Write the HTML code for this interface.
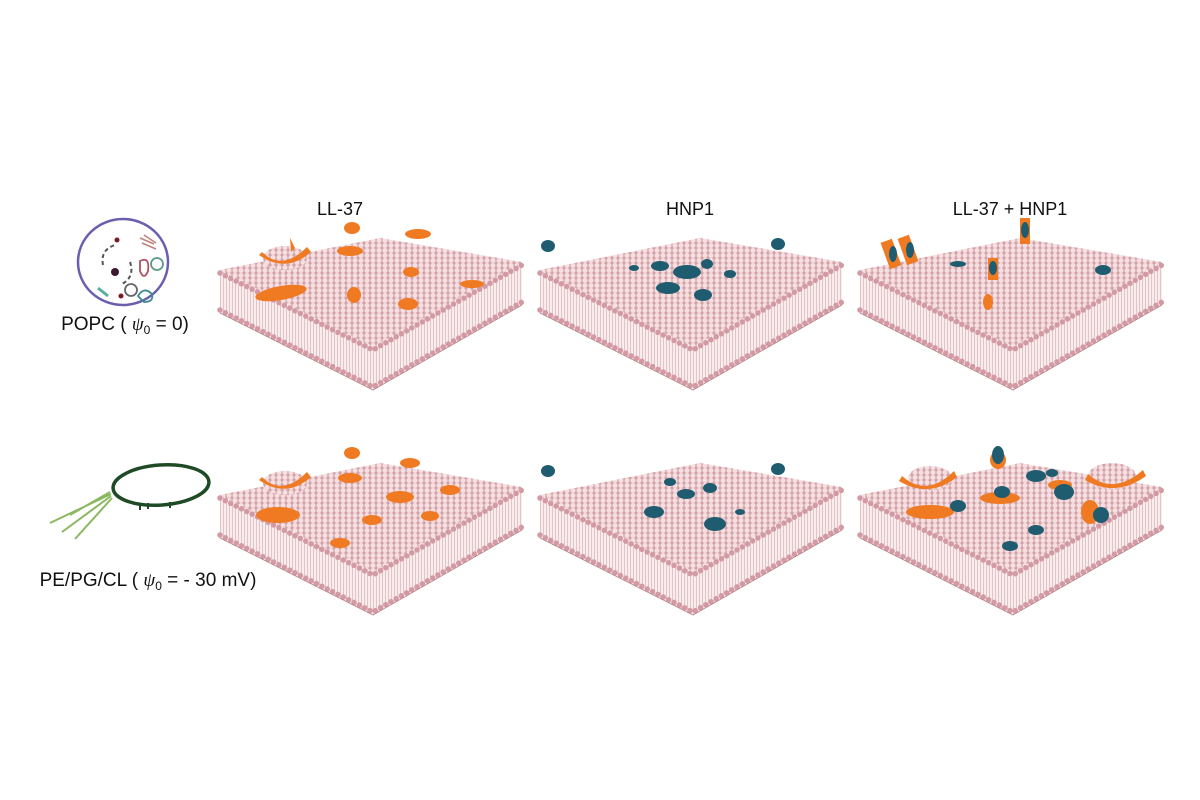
<!DOCTYPE html>
<html><head><meta charset="utf-8"><style>
body{margin:0;background:#fff;}
svg{display:block}
text{font-family:"Liberation Sans",sans-serif;fill:#111}
</style></head><body>
<svg width="1200" height="800" viewBox="0 0 1200 800" xmlns="http://www.w3.org/2000/svg">
<defs>
<pattern id="dots" width="6" height="5" patternUnits="userSpaceOnUse">
<rect width="6" height="5" fill="#d4a3aa"/>
<circle cx="3" cy="2.5" r="2.5" fill="#f5dfe1"/>
</pattern>
<pattern id="side" width="3" height="43" patternUnits="userSpaceOnUse">
<rect width="3" height="43" fill="#f8eced"/>
<rect x="0" y="0" width="1" height="43" fill="#e2c3c7"/>
</pattern>
<g id="slab">
<polygon points="0,32 153,109 153,152 0,75" fill="url(#side)"/>
<polygon points="153,109 302,24 302,67 153,152" fill="url(#side)"/>
<polygon points="0,32 160,0 302,24 153,109" fill="url(#dots)"/>
<g fill="none" stroke="#d39aa3" stroke-width="5.5" stroke-linecap="round" stroke-dasharray="0 6">
<polyline points="0,35 153,112 302,27"/>
<polyline points="0,72 153,149 302,64"/>
</g>
<g fill="none" stroke="#b88088" stroke-width="0.8">
<polyline points="0,75 153,152 302,67"/>
</g>
</g>
</defs>

<text x="340" y="215" font-size="18" text-anchor="middle">LL-37</text>
<text x="690" y="215" font-size="18" text-anchor="middle">HNP1</text>
<text x="1010" y="215" font-size="18" text-anchor="middle">LL-37 + HNP1</text>
<text x="125" y="330" font-size="19" text-anchor="middle">POPC ( <tspan font-style="italic" font-family="Liberation Serif">ψ</tspan><tspan font-size="12" dy="4">0</tspan><tspan dy="-4"> = 0)</tspan></text>
<text x="148" y="586" font-size="19" text-anchor="middle">PE/PG/CL ( <tspan font-style="italic" font-family="Liberation Serif">ψ</tspan><tspan font-size="12" dy="4">0</tspan><tspan dy="-4"> = - 30 mV)</tspan></text>

<ellipse cx="123" cy="262" rx="45" ry="43" fill="none" stroke="#6a5fae" stroke-width="2.5"/>
<circle cx="115" cy="272" r="4" fill="#3a1a30"/>
<circle cx="117" cy="240" r="2.5" fill="#7a1a20"/>
<circle cx="121" cy="296" r="2.5" fill="#7a1a20"/>
<path d="M103 265 q-3 -15 12 -20 M130 262 q5 15 -8 22" fill="none" stroke="#555" stroke-width="2" stroke-dasharray="4 3"/>
<path d="M140 261 q10 -5 8 10 q-4 10 -8 0z" fill="none" stroke="#b05060" stroke-width="1.8"/>
<circle cx="157" cy="264" r="6" fill="none" stroke="#5a9a88" stroke-width="1.8"/>
<circle cx="131" cy="290" r="6" fill="none" stroke="#666" stroke-width="1.8"/>
<path d="M138 296 q6 -10 14 -2 q2 8 -8 8z" fill="none" stroke="#3a8a90" stroke-width="1.8"/>
<path d="M140 238 l14 6 M142 243 l14 6 M144 235 l12 8" stroke="#c08080" stroke-width="1.5"/>
<path d="M98 288 l10 8" stroke="#5ab0a0" stroke-width="3"/>

<ellipse cx="161" cy="485" rx="48" ry="20" transform="rotate(-4 161 485)" fill="none" stroke="#1f4a26" stroke-width="3.5"/>
<path d="M140 503 v7 M148 503 v6 M170 502 v6" stroke="#1f4a26" stroke-width="2"/>
<path d="M111 494 L50 523 M111 496 L62 532 M112 498 L75 539 M110 492 L70 515" stroke="#8ab860" stroke-width="2"/>

<use href="#slab" x="220" y="238"/>
<use href="#slab" x="540" y="238"/>
<use href="#slab" x="860" y="238"/>
<use href="#slab" x="220" y="463"/>
<use href="#slab" x="540" y="463"/>
<use href="#slab" x="860" y="463"/>

<g fill="#f07a22">
<ellipse cx="285" cy="258" rx="22" ry="12" fill="url(#dots)"/>
<path d="M262 252 q20 20 45 -5 l4 5 q-25 22 -52 3z"/>
<path d="M290 238 l5 10 -4 4z"/>
<ellipse cx="352" cy="228" rx="8" ry="6"/>
<ellipse cx="418" cy="234" rx="13" ry="5"/>
<ellipse cx="350" cy="251" rx="13" ry="5"/>
<ellipse cx="411" cy="272" rx="8" ry="5"/>
<ellipse cx="472" cy="284" rx="12" ry="4"/>
<ellipse cx="281" cy="293" rx="26" ry="7" transform="rotate(-10 281 293)"/>
<ellipse cx="354" cy="295" rx="7" ry="8"/>
<ellipse cx="408" cy="304" rx="10" ry="6"/>
<ellipse cx="285" cy="483" rx="22" ry="12" fill="url(#dots)"/>
<path d="M262 477 q20 20 45 -5 l4 5 q-25 22 -52 3z"/>
<ellipse cx="352" cy="453" rx="8" ry="6"/>
<ellipse cx="410" cy="463" rx="10" ry="5"/>
<ellipse cx="350" cy="478" rx="12" ry="5"/>
<ellipse cx="400" cy="497" rx="14" ry="6"/>
<ellipse cx="372" cy="520" rx="10" ry="5"/>
<ellipse cx="430" cy="516" rx="9" ry="5"/>
<ellipse cx="278" cy="515" rx="22" ry="8"/>
<ellipse cx="340" cy="543" rx="10" ry="5"/>
<ellipse cx="450" cy="490" rx="10" ry="5"/>
<rect x="885" y="240" width="12" height="28" transform="rotate(-20 891 254)"/>
<rect x="902" y="236" width="12" height="28" transform="rotate(-20 908 250)"/>
<rect x="1020" y="218" width="10" height="26"/>
<rect x="988" y="258" width="10" height="22"/>
<ellipse cx="988" cy="302" rx="5" ry="8"/>
<ellipse cx="930" cy="478" rx="22" ry="12" fill="url(#dots)"/>
<path d="M902 476 q25 22 52 -5 l3 6 q-28 22 -58 4z"/>
<ellipse cx="1112" cy="476" rx="24" ry="13" fill="url(#dots)"/>
<path d="M1088 474 q25 22 55 -4 l3 6 q-30 22 -61 4z"/>
<ellipse cx="930" cy="512" rx="24" ry="7"/>
<ellipse cx="998" cy="460" rx="8" ry="9"/>
<ellipse cx="1000" cy="498" rx="20" ry="6"/>
<ellipse cx="1060" cy="485" rx="12" ry="5"/>
<ellipse cx="1090" cy="512" rx="9" ry="12"/>
</g>
<g fill="#1f5c70">
<ellipse cx="548" cy="246" rx="7" ry="6"/>
<ellipse cx="778" cy="244" rx="7" ry="6"/>
<ellipse cx="660" cy="266" rx="9" ry="5"/>
<ellipse cx="687" cy="272" rx="14" ry="7"/>
<ellipse cx="707" cy="264" rx="6" ry="5"/>
<ellipse cx="668" cy="288" rx="12" ry="6"/>
<ellipse cx="703" cy="295" rx="9" ry="6"/>
<ellipse cx="730" cy="274" rx="6" ry="4"/>
<ellipse cx="634" cy="268" rx="5" ry="3"/>
<ellipse cx="548" cy="471" rx="7" ry="6"/>
<ellipse cx="778" cy="469" rx="7" ry="6"/>
<ellipse cx="670" cy="482" rx="6" ry="4"/>
<ellipse cx="686" cy="494" rx="9" ry="5"/>
<ellipse cx="710" cy="488" rx="7" ry="5"/>
<ellipse cx="654" cy="512" rx="10" ry="6"/>
<ellipse cx="715" cy="524" rx="11" ry="7"/>
<ellipse cx="740" cy="512" rx="5" ry="3"/>
<ellipse cx="893" cy="254" rx="4" ry="8"/>
<ellipse cx="910" cy="250" rx="4" ry="8"/>
<ellipse cx="1025" cy="230" rx="4" ry="8"/>
<ellipse cx="993" cy="268" rx="4" ry="7"/>
<ellipse cx="958" cy="264" rx="8" ry="3"/>
<ellipse cx="1103" cy="270" rx="8" ry="5"/>
<ellipse cx="998" cy="455" rx="6" ry="9"/>
<ellipse cx="1036" cy="476" rx="10" ry="6"/>
<ellipse cx="1002" cy="492" rx="8" ry="6"/>
<ellipse cx="1064" cy="492" rx="10" ry="8"/>
<ellipse cx="1052" cy="473" rx="6" ry="4"/>
<ellipse cx="1101" cy="515" rx="8" ry="8"/>
<ellipse cx="1036" cy="530" rx="8" ry="5"/>
<ellipse cx="1010" cy="546" rx="8" ry="5"/>
<ellipse cx="958" cy="506" rx="8" ry="6"/>
</g>
</svg>
</body></html>
